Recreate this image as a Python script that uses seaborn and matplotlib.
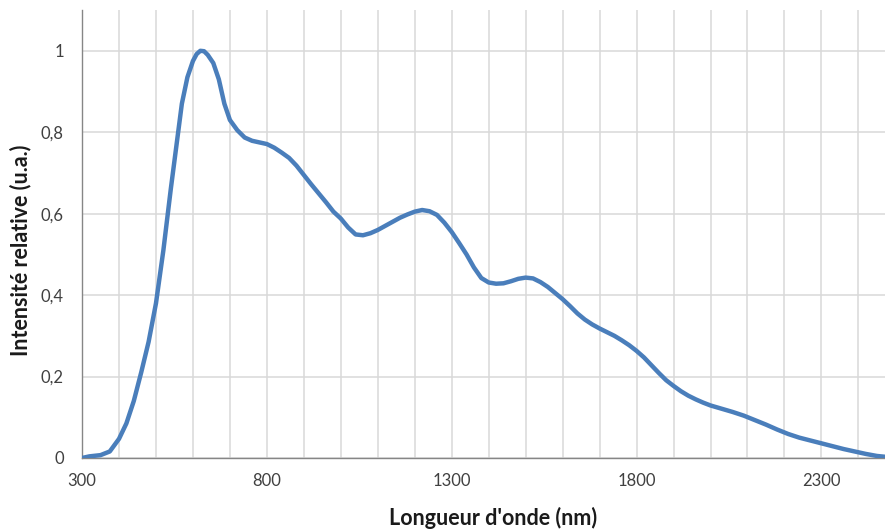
"""
Spectre d'intensité relative en fonction de la longueur d'onde.
"""
import numpy as np
import pandas as pd
import matplotlib
matplotlib.use('Agg')
import matplotlib.pyplot as plt
from matplotlib.ticker import MultipleLocator, FuncFormatter
import seaborn as sns

# Valeurs
wavelength_nm = [300, 320, 350, 375, 400, 420, 440, 460, 480, 500,
                 520, 540, 555, 570, 585, 600, 610, 620, 630, 640,
                 655, 670, 685, 700, 720, 740, 760, 780, 800, 820,
                 840, 860, 880, 900, 920, 940, 960, 980, 1000, 1020,
                 1040, 1060, 1080, 1100, 1120, 1140, 1160, 1180, 1200, 1220,
                 1240, 1260, 1280, 1300, 1320, 1340, 1360, 1380, 1400, 1420,
                 1440, 1460, 1480, 1500, 1520, 1540, 1560, 1580, 1600, 1620,
                 1640, 1660, 1680, 1700, 1720, 1740, 1760, 1780, 1800, 1820,
                 1840, 1860, 1880, 1900, 1920, 1940, 1960, 1980, 2000, 2030,
                 2060, 2090, 2120, 2150, 2180, 2210, 2240, 2270, 2300, 2330,
                 2360, 2390, 2420, 2450, 2472]
intensity = [0.0, 0.004, 0.007, 0.016, 0.047, 0.085, 0.14, 0.21, 0.285, 0.38,
             0.51, 0.66, 0.765, 0.87, 0.935, 0.975, 0.992, 1.0, 0.999, 0.99,
             0.97, 0.93, 0.87, 0.83, 0.805, 0.787, 0.779, 0.775, 0.771, 0.762,
             0.75, 0.737, 0.718, 0.695, 0.672, 0.65, 0.628, 0.605, 0.588, 0.566,
             0.549, 0.547, 0.552, 0.56, 0.57, 0.58, 0.59, 0.598, 0.605, 0.609,
             0.606, 0.597, 0.578, 0.555, 0.528, 0.5, 0.468, 0.442, 0.431, 0.428,
             0.429, 0.434, 0.44, 0.443, 0.441, 0.432, 0.42, 0.405, 0.39, 0.373,
             0.355, 0.34, 0.328, 0.318, 0.309, 0.3, 0.289, 0.277, 0.263, 0.247,
             0.228, 0.209, 0.191, 0.177, 0.164, 0.153, 0.144, 0.136, 0.129, 0.121,
             0.113, 0.104, 0.093, 0.082, 0.07, 0.059, 0.05, 0.043, 0.036, 0.029,
             0.022, 0.016, 0.01, 0.005, 0.003]
x_ticks = [300, 800, 1300, 1800, 2300]
y_ticks = [0, 0.2, 0.4, 0.6, 0.8, 1.0]

df = pd.DataFrame({'lambda': wavelength_nm, 'I': intensity})

sns.set_style('white')
plt.rcParams['font.family'] = ['Lato', 'DejaVu Sans']

fig = plt.figure(figsize=(8.85, 5.31), dpi=100)
ax = fig.add_axes([0.0927, 0.1375, 0.9073, 0.8435])

sns.lineplot(data=df, x='lambda', y='I', ax=ax, color='#4a7ebb',
             linewidth=3.2, zorder=3, solid_joinstyle='round',
             solid_capstyle='round')

ax.set_xlim(300, 2472)
ax.set_ylim(0, 1.1)
ax.set_xticks(x_ticks)
ax.xaxis.set_minor_locator(MultipleLocator(100))
ax.set_yticks(y_ticks)

def comma_fmt(v, pos):
    if abs(v) < 1e-9:
        return '0'
    if abs(v - round(v)) < 1e-9:
        return str(int(round(v)))
    return f'{v:.1f}'.replace('.', ',')

ax.yaxis.set_major_formatter(FuncFormatter(comma_fmt))

ax.grid(which='both', axis='x', color='#d9d9d9', linewidth=1.1, zorder=0)
ax.grid(which='major', axis='y', color='#d9d9d9', linewidth=1.1, zorder=0)
ax.set_axisbelow(True)

for side in ['top', 'right']:
    ax.spines[side].set_visible(False)
for side in ['left', 'bottom']:
    ax.spines[side].set_color('#868686')
    ax.spines[side].set_linewidth(1.0)

ax.tick_params(axis='x', which='major', direction='out', length=5,
               color='#868686', labelsize=12, labelcolor='#404040', pad=6)
ax.tick_params(axis='x', which='minor', length=0)
ax.tick_params(axis='y', which='major', direction='out', length=5,
               color='#868686', labelsize=12, labelcolor='#404040', pad=8)

ax.set_xlabel("Longueur d'onde (nm)", fontsize=15.5, fontweight='bold',
              color='#1a1a1a')
ax.set_ylabel('Intensité relative (u.a.)', fontsize=15.5, fontweight='bold',
              color='#1a1a1a')
ax.xaxis.set_label_coords(0.512, -0.134)
ax.yaxis.set_label_coords(-0.077, 0.464)
ax.xaxis.label.set_va('center')
ax.yaxis.label.set_va('center')

fig.savefig('out.png', dpi=100)
